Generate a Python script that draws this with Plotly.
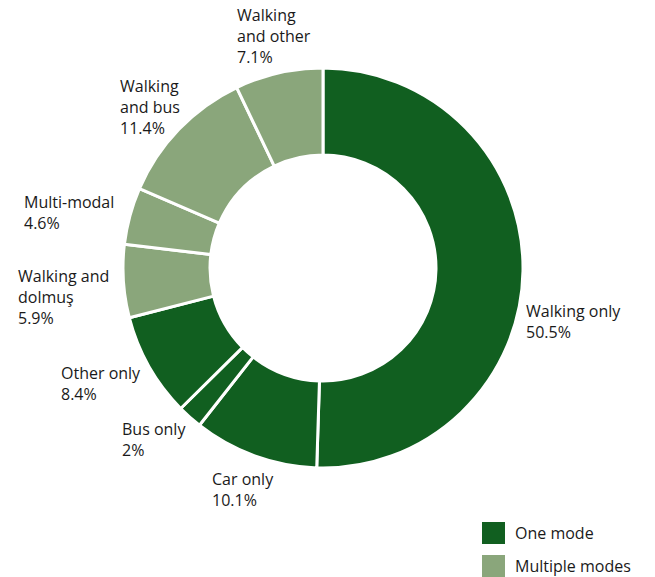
import math
import plotly.graph_objects as go

# ---- data ----
categories = ["Walking only", "Car only", "Bus only", "Other only",
              "Walking and<br>dolmuş", "Multi-modal", "Walking<br>and bus", "Walking<br>and other"]
values = [50.5, 10.1, 2.0, 8.4, 5.9, 4.6, 11.4, 7.1]
groups = ["One mode", "One mode", "One mode", "One mode",
          "Multiple modes", "Multiple modes", "Multiple modes", "Multiple modes"]
legend_labels = ["One mode", "Multiple modes"]

# ---- style ----
W, H = 655, 577
group_colors = {"One mode": "#115f20", "Multiple modes": "#8aa67b"}
font_family = "Open Sans, sans-serif"
text_color = "#1a1a1a"
cx, cy, R = 323, 268, 200          # donut centre / radius in px
label_angle_nudge = [14, 2, -3.5, -3, -4, 0, 5, -1]          # degrees, label placement only
label_r = [1.04, 1.07, 1.09, 1.07, 1.07, 1.07, 1.07, 1.02]  # radius factors, label placement only

def px(x):
    return x / W

def py(y):
    return 1 - y / H

fig = go.Figure()
fig.add_trace(go.Pie(
    labels=[c.replace("<br>", " ") for c in categories],
    values=values,
    hole=0.565,
    sort=False,
    direction="clockwise",
    rotation=0,
    textinfo="none",
    hoverinfo="label+value",
    marker=dict(colors=[group_colors[g] for g in groups],
                line=dict(color="white", width=3)),
    domain=dict(x=[px(cx - R), px(cx + R)], y=[py(cy + R), py(cy - R)]),
    showlegend=False,
))

# labels placed around the ring at each slice's mid angle
total = sum(values)
cum = 0
for cat, v, nudge, rf in zip(categories, values, label_angle_nudge, label_r):
    mid = (cum + v / 2) / total * 360 + nudge
    cum += v
    th = math.radians(mid)
    s, c = math.sin(th), math.cos(th)
    x = cx + rf * R * s
    y = cy - rf * R * c
    if abs(s) < 0.5:
        xa = "center"
    elif s > 0:
        xa = "left"
    else:
        xa = "right"
    if c > 0.85:
        ya = "bottom"
    elif c < -0.85:
        ya = "top"
    else:
        ya = "middle"
    pct = f"{v:g}%"
    fig.add_annotation(
        x=px(x), y=py(y), xref="paper", yref="paper",
        text=f"{cat}<br>{pct}", showarrow=False, align="left",
        xanchor=xa, yanchor=ya,
        font=dict(family=font_family, size=16, color=text_color),
    )

# custom legend
for i, lab in enumerate(legend_labels):
    top = 522 + i * 33
    fig.add_shape(type="rect", xref="paper", yref="paper",
                  x0=px(482), x1=px(505), y0=py(top + 22), y1=py(top),
                  fillcolor=group_colors[lab], line=dict(width=0))
    fig.add_annotation(x=px(513), y=py(top + 11), xref="paper", yref="paper",
                       text=lab, showarrow=False, xanchor="left", yanchor="middle",
                       font=dict(family=font_family, size=16, color=text_color))

fig.update_layout(
    width=W, height=H,
    margin=dict(l=0, r=0, t=0, b=0),
    paper_bgcolor="white", plot_bgcolor="white",
)

fig.write_html("out.html",
               config={"displayModeBar": False},
               post_script="document.body.style.margin='0';document.body.style.overflow='hidden';")
